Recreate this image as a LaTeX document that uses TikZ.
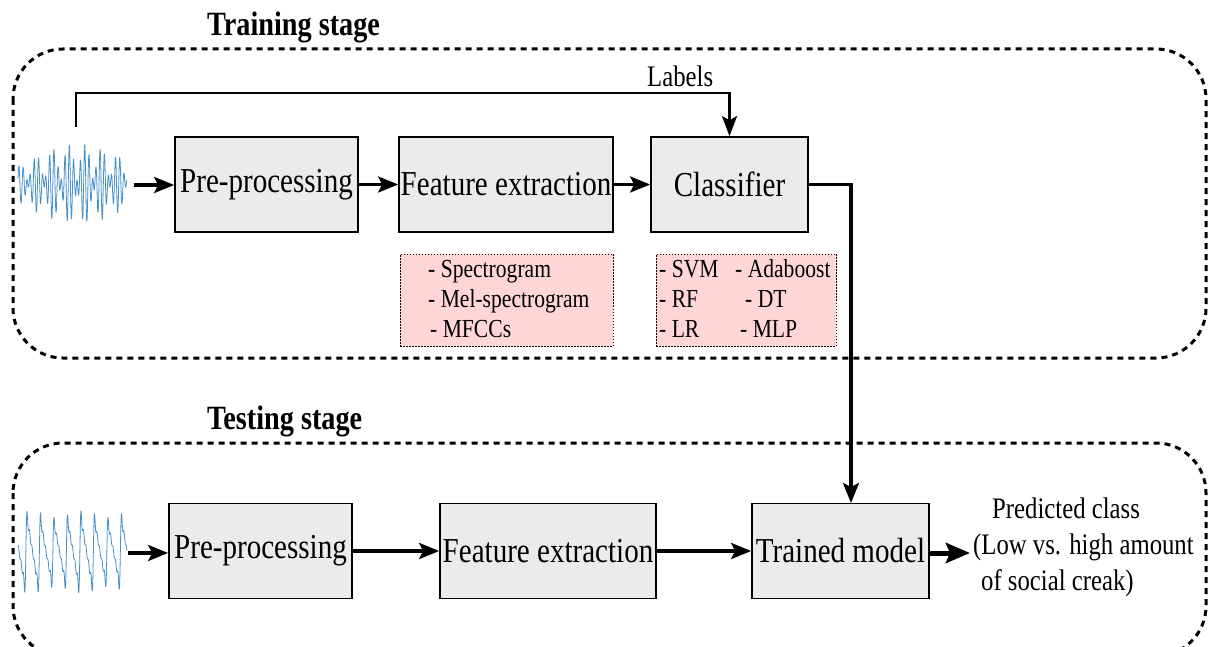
\documentclass[tikz,border=0pt]{standalone}
\usepackage{fontspec}
\usepackage{graphicx}
\setmainfont{Liberation Serif}
\usetikzlibrary{arrows.meta,calc}
\definecolor{boxgray}{HTML}{EBEBEB}
\definecolor{pinkbg}{HTML}{FFD6D6}
\definecolor{wavecol}{HTML}{4A90C8}
\newcommand{\nar}[1]{\scalebox{0.83}[1]{#1}}
\begin{document}
\begin{tikzpicture}[x=1pt,y=-1pt,
  stagebox/.style={line width=3pt, dash pattern=on 6pt off 5pt, rounded corners=50pt},
  procbox/.style={draw, line width=1.7pt, fill=boxgray, inner sep=0pt, minimum height=95pt, font=\fontsize{35}{40}\selectfont},
  listbox/.style={draw, line width=1pt, dash pattern=on 1.5pt off 1.5pt, fill=pinkbg, inner sep=0pt, minimum height=92pt},
  listtext/.style={anchor=base west, inner sep=0pt, font=\fontsize{26}{30}\selectfont},
  plaintext/.style={anchor=base west, inner sep=0pt, font=\fontsize{29.8}{34}\selectfont},
  titletext/.style={anchor=base west, inner sep=0pt, font=\bfseries\fontsize{34}{40}\selectfont},
  arr/.style={line width=3.2pt, -{Stealth[length=20pt,width=16pt,inset=4pt]}},
  bigarr/.style={line width=5pt, -{Stealth[length=24pt,width=20pt,inset=4pt]}},
  labline/.style={line width=2.8pt, -{Stealth[length=20pt,width=15pt,inset=4pt]}},
  wavestyle/.style={wavecol, line width=0.8pt, line join=round}
]
\useasboundingbox (0,0) rectangle (1210,647);
\clip (0,0) rectangle (1210,647);

% stage containers
\draw[stagebox] (13,49) rectangle (1206,358);
\draw[stagebox] (13,443) rectangle (1206,656);
\node[titletext] (ttrain) at (207,36) {\nar{Training stage}};
\node[titletext] (ttest) at (207,429) {\nar{Testing stage}};

% waveforms
\draw[wavestyle] plot[variable=\t, domain=0:109, samples=450]
  ({18+\t}, {184 - (18+22*sin(\t*1.5))*(0.55*sin(mod(\t*93,360)) + 0.45*sin(mod(\t*71+40,360)))});
\draw[wavestyle] plot[variable=\t, domain=0:109, samples=500]
  ({18+\t}, {552 - (24+2*sin(mod(\t*7,360)))*(sin(mod(\t*26.67+150,360)) + 0.5*sin(mod(2*\t*26.67+300,360)) + 0.333*sin(mod(3*\t*26.67+450,360)) + 0.25*sin(mod(4*\t*26.67+600,360)) + 0.2*sin(mod(5*\t*26.67+750,360)))});

% training boxes
\node[procbox, minimum width=183pt] (pre1) at (266.5,184.5) {\nar{Pre-processing}};
\node[procbox, minimum width=214pt] (fe1) at (506,184.5) {\nar{Feature extraction}};
\node[procbox, minimum width=157pt] (cls) at (729.5,184.5) {\nar{Classifier}};

% list boxes
\node[listbox, minimum width=213pt] (flist) at (506.5,300) {};
\node[listbox, minimum width=180pt] (clist) at (746,300) {};
\node[listtext] (f1) at (428,277) {\nar{- Spectrogram}};
\node[listtext] (f2) at (428,307) {\nar{- Mel-spectrogram}};
\node[listtext] (f3) at (430,337) {\nar{- MFCCs}};
\node[listtext] (c1) at (659,277) {\nar{- SVM}};
\node[listtext] (c2) at (735,277) {\nar{- Adaboost}};
\node[listtext] (c3) at (659,307) {\nar{- RF}};
\node[listtext] (c4) at (745,307) {\nar{- DT}};
\node[listtext] (c5) at (659,337) {\nar{- LR}};
\node[listtext] (c6) at (740,337) {\nar{- MLP}};

% testing boxes
\node[procbox, minimum width=183pt] (pre2) at (260.5,551) {\nar{Pre-processing}};
\node[procbox, minimum width=216pt] (fe2) at (548,551) {\nar{Feature extraction}};
\node[procbox, minimum width=177pt] (tm) at (840.5,551) {\nar{Trained model}};

% labels path
\coordinate (lab0) at (76,127);
\coordinate (lab1) at (76,93);
\draw[labline] (lab0) -- (lab1) -| (cls.north);
\node[plaintext] (labels) at (647,87) {\nar{Labels}};

% training arrows
\coordinate (w1) at (134,185);
\draw[arr] (w1) -- (w1 -| pre1.west);
\draw[arr] (pre1) -- (fe1);
\draw[arr] (fe1) -- (cls);

% classifier to trained model
\coordinate (tmin) at (851,503);
\draw[arr] (cls.east) -| (tmin);

% testing arrows
\coordinate (w2) at (128,553);
\draw[arr] (w2) -- (w2 -| pre2.west);
\draw[arr] (pre2) -- (fe2);
\draw[arr] (fe2) -- (tm);
\coordinate (out) at (970,553);
\draw[bigarr] (tm.east |- out) -- (out);

% output text
\node[plaintext] (p1) at (992,518) {\nar{Predicted class}};
\node[plaintext] (p2) at (973,554) {\nar{(Low vs. high amount}};
\node[plaintext] (p3) at (981,590) {\nar{of social creak)}};
\end{tikzpicture}
\end{document}
